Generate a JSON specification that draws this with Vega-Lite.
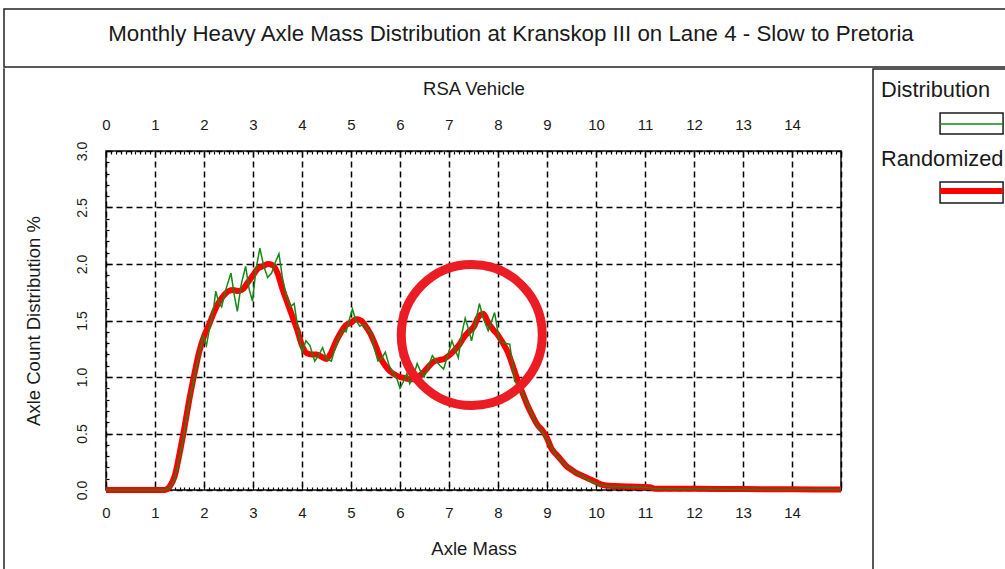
{
  "$schema": "https://vega.github.io/schema/vega-lite/v6.json",
  "padding": {"left": 3, "top": 8, "right": 0, "bottom": 0},
  "background": "white",
  "spacing": 0,
  "config": {
    "font": "Liberation Sans",
    "view": {"stroke": "#222222", "strokeWidth": 1.5},
    "axis": {"labelFont": "Liberation Sans", "titleFont": "Liberation Sans", "labelColor": "#1a1a1a", "titleColor": "#1a1a1a", "titleFontWeight": "normal"}
  },
  "datasets": {
    "red": [
      {"x": 0, "y": 0}, {"x": 0.5, "y": 0}, {"x": 1.0, "y": 0}, {"x": 1.2, "y": 0},
      {"x": 1.3, "y": 0.03}, {"x": 1.4, "y": 0.12}, {"x": 1.5, "y": 0.32}, {"x": 1.6, "y": 0.55},
      {"x": 1.7, "y": 0.80}, {"x": 1.8, "y": 1.02}, {"x": 1.9, "y": 1.22}, {"x": 2.0, "y": 1.36},
      {"x": 2.1, "y": 1.46}, {"x": 2.2, "y": 1.57}, {"x": 2.3, "y": 1.66}, {"x": 2.4, "y": 1.72},
      {"x": 2.5, "y": 1.76}, {"x": 2.6, "y": 1.77}, {"x": 2.7, "y": 1.76}, {"x": 2.8, "y": 1.78},
      {"x": 2.9, "y": 1.84}, {"x": 3.0, "y": 1.90}, {"x": 3.1, "y": 1.96}, {"x": 3.2, "y": 1.98},
      {"x": 3.3, "y": 2.00}, {"x": 3.4, "y": 1.99}, {"x": 3.5, "y": 1.92}, {"x": 3.6, "y": 1.78},
      {"x": 3.7, "y": 1.66}, {"x": 3.8, "y": 1.54}, {"x": 3.9, "y": 1.42}, {"x": 4.0, "y": 1.28},
      {"x": 4.1, "y": 1.21}, {"x": 4.2, "y": 1.20}, {"x": 4.3, "y": 1.20}, {"x": 4.4, "y": 1.18},
      {"x": 4.5, "y": 1.16}, {"x": 4.6, "y": 1.22}, {"x": 4.7, "y": 1.32}, {"x": 4.8, "y": 1.40},
      {"x": 4.9, "y": 1.46}, {"x": 5.0, "y": 1.48}, {"x": 5.1, "y": 1.51}, {"x": 5.2, "y": 1.50},
      {"x": 5.3, "y": 1.45}, {"x": 5.4, "y": 1.38}, {"x": 5.5, "y": 1.28}, {"x": 5.6, "y": 1.17},
      {"x": 5.7, "y": 1.10}, {"x": 5.8, "y": 1.05}, {"x": 5.9, "y": 1.02}, {"x": 6.0, "y": 1.00},
      {"x": 6.1, "y": 0.99}, {"x": 6.2, "y": 0.98}, {"x": 6.3, "y": 0.98}, {"x": 6.4, "y": 1.01},
      {"x": 6.5, "y": 1.05}, {"x": 6.6, "y": 1.10}, {"x": 6.7, "y": 1.14}, {"x": 6.8, "y": 1.15},
      {"x": 6.9, "y": 1.16}, {"x": 7.0, "y": 1.19}, {"x": 7.1, "y": 1.23}, {"x": 7.2, "y": 1.28},
      {"x": 7.3, "y": 1.35}, {"x": 7.4, "y": 1.40}, {"x": 7.5, "y": 1.44}, {"x": 7.6, "y": 1.53},
      {"x": 7.7, "y": 1.56}, {"x": 7.8, "y": 1.48}, {"x": 7.9, "y": 1.42}, {"x": 8.0, "y": 1.37},
      {"x": 8.1, "y": 1.30}, {"x": 8.2, "y": 1.22}, {"x": 8.3, "y": 1.10}, {"x": 8.4, "y": 0.97},
      {"x": 8.5, "y": 0.86}, {"x": 8.6, "y": 0.75}, {"x": 8.7, "y": 0.66}, {"x": 8.8, "y": 0.58},
      {"x": 8.9, "y": 0.53}, {"x": 9.0, "y": 0.46}, {"x": 9.1, "y": 0.36}, {"x": 9.2, "y": 0.31},
      {"x": 9.3, "y": 0.26}, {"x": 9.4, "y": 0.21}, {"x": 9.5, "y": 0.18}, {"x": 9.6, "y": 0.15},
      {"x": 9.7, "y": 0.13}, {"x": 9.8, "y": 0.11}, {"x": 9.9, "y": 0.09}, {"x": 10.0, "y": 0.07},
      {"x": 10.1, "y": 0.05}, {"x": 10.2, "y": 0.04}, {"x": 10.4, "y": 0.035}, {"x": 10.7, "y": 0.03},
      {"x": 11.1, "y": 0.025}, {"x": 11.2, "y": 0.012}, {"x": 12.0, "y": 0.01}, {"x": 13.0, "y": 0.008},
      {"x": 14.0, "y": 0.006}, {"x": 15.0, "y": 0.005}
    ],
    "green": [
      {"x": 0, "y": 0}, {"x": 1.2, "y": 0}, {"x": 1.3, "y": 0.02}, {"x": 1.4, "y": 0.1},
      {"x": 1.5, "y": 0.28}, {"x": 1.6, "y": 0.52}, {"x": 1.7, "y": 0.78}, {"x": 1.8, "y": 1.0},
      {"x": 1.9, "y": 1.2}, {"x": 1.98, "y": 1.36}, {"x": 2.05, "y": 1.28}, {"x": 2.12, "y": 1.45},
      {"x": 2.2, "y": 1.62}, {"x": 2.24, "y": 1.76}, {"x": 2.3, "y": 1.66}, {"x": 2.36, "y": 1.62},
      {"x": 2.45, "y": 1.78}, {"x": 2.55, "y": 1.92}, {"x": 2.62, "y": 1.72}, {"x": 2.68, "y": 1.58},
      {"x": 2.76, "y": 1.82}, {"x": 2.85, "y": 1.98}, {"x": 2.92, "y": 1.78}, {"x": 2.99, "y": 1.67},
      {"x": 3.06, "y": 1.95}, {"x": 3.14, "y": 2.14}, {"x": 3.22, "y": 1.98}, {"x": 3.3, "y": 1.88},
      {"x": 3.38, "y": 1.92}, {"x": 3.46, "y": 2.02}, {"x": 3.53, "y": 2.09}, {"x": 3.6, "y": 1.88},
      {"x": 3.68, "y": 1.72}, {"x": 3.76, "y": 1.62}, {"x": 3.84, "y": 1.65}, {"x": 3.92, "y": 1.42},
      {"x": 4.0, "y": 1.22}, {"x": 4.08, "y": 1.32}, {"x": 4.16, "y": 1.28}, {"x": 4.26, "y": 1.14},
      {"x": 4.35, "y": 1.2}, {"x": 4.42, "y": 1.26}, {"x": 4.5, "y": 1.16}, {"x": 4.6, "y": 1.14},
      {"x": 4.67, "y": 1.25}, {"x": 4.75, "y": 1.35}, {"x": 4.83, "y": 1.42}, {"x": 4.9, "y": 1.4},
      {"x": 4.96, "y": 1.5}, {"x": 5.03, "y": 1.6}, {"x": 5.1, "y": 1.5}, {"x": 5.18, "y": 1.45},
      {"x": 5.26, "y": 1.47}, {"x": 5.34, "y": 1.42}, {"x": 5.42, "y": 1.38}, {"x": 5.48, "y": 1.25},
      {"x": 5.55, "y": 1.14}, {"x": 5.62, "y": 1.16}, {"x": 5.7, "y": 1.22}, {"x": 5.78, "y": 1.1},
      {"x": 5.87, "y": 1.03}, {"x": 5.94, "y": 0.98}, {"x": 6.0, "y": 0.9}, {"x": 6.07, "y": 0.96},
      {"x": 6.14, "y": 1.03}, {"x": 6.2, "y": 0.94}, {"x": 6.27, "y": 1.0}, {"x": 6.35, "y": 1.12},
      {"x": 6.42, "y": 1.05}, {"x": 6.49, "y": 1.0}, {"x": 6.57, "y": 1.08}, {"x": 6.66, "y": 1.19},
      {"x": 6.74, "y": 1.14}, {"x": 6.82, "y": 1.1}, {"x": 6.89, "y": 1.07}, {"x": 6.98, "y": 1.2},
      {"x": 7.06, "y": 1.32}, {"x": 7.12, "y": 1.25}, {"x": 7.19, "y": 1.17}, {"x": 7.26, "y": 1.38},
      {"x": 7.33, "y": 1.52}, {"x": 7.4, "y": 1.42}, {"x": 7.46, "y": 1.32}, {"x": 7.54, "y": 1.48},
      {"x": 7.62, "y": 1.65}, {"x": 7.7, "y": 1.52}, {"x": 7.8, "y": 1.41}, {"x": 7.86, "y": 1.48},
      {"x": 7.93, "y": 1.57}, {"x": 8.03, "y": 1.32}, {"x": 8.12, "y": 1.3}, {"x": 8.24, "y": 1.29},
      {"x": 8.3, "y": 1.1}, {"x": 8.34, "y": 0.96}, {"x": 8.4, "y": 0.95}, {"x": 8.5, "y": 0.86},
      {"x": 8.6, "y": 0.76}, {"x": 8.7, "y": 0.66}, {"x": 8.8, "y": 0.57}, {"x": 8.9, "y": 0.52},
      {"x": 9.0, "y": 0.45}, {"x": 9.1, "y": 0.37}, {"x": 9.2, "y": 0.3}, {"x": 9.3, "y": 0.26},
      {"x": 9.4, "y": 0.21}, {"x": 9.5, "y": 0.18}, {"x": 9.6, "y": 0.15}, {"x": 9.7, "y": 0.13},
      {"x": 9.8, "y": 0.1}, {"x": 9.9, "y": 0.08}, {"x": 10.0, "y": 0.06}, {"x": 10.1, "y": 0.04},
      {"x": 10.2, "y": 0.04}, {"x": 10.3, "y": 0.03}, {"x": 10.5, "y": 0.03}, {"x": 11.1, "y": 0.02},
      {"x": 11.2, "y": 0.01}, {"x": 13.5, "y": 0.005}, {"x": 15.0, "y": 0.005}
    ]
  },
  "vconcat": [
    {
      "width": 1014,
      "height": 58,
      "data": {"values": [{"label": "Monthly Heavy Axle Mass Distribution at Kranskop III on Lane 4 - Slow to Pretoria"}]},
      "mark": {"type": "text", "fontSize": 22.3, "color": "#1a1a1a", "baseline": "middle", "dy": -4},
      "encoding": {
        "x": {"datum": 0.5, "type": "quantitative", "scale": {"domain": [0, 1]}, "axis": null},
        "y": {"datum": 0.5, "type": "quantitative", "scale": {"domain": [0, 1]}, "axis": null},
        "text": {"field": "label"}
      }
    },
    {
      "spacing": 18,
      "hconcat": [
        {
          "width": 0.01,
          "height": 510,
          "data": {"values": []},
          "mark": {"type": "point", "opacity": 0},
          "encoding": {
            "x": {"datum": 0, "type": "quantitative", "scale": {"domain": [0, 1]}, "axis": null},
            "y": {"datum": 0, "type": "quantitative", "scale": {"domain": [0, 1]}, "axis": null}
          }
        },
        {
          "spacing": 18,
          "hconcat": [
            {
              "spacing": 0,
              "vconcat": [
                {
                  "width": 735,
                  "height": 60,
                  "view": {"stroke": null},
                  "data": {"values": []},
                  "mark": {"type": "point", "opacity": 0},
                  "encoding": {
                    "x": {
                      "field": "x", "type": "quantitative",
                      "scale": {"domain": [0, 15], "nice": false, "zero": false},
                      "axis": {
                        "orient": "top", "offset": -71, "tickCount": 15, "domain": false, "ticks": false, "tickSize": 0, "grid": false,
                        "labelExpr": "datum.value < 14.5 ? format(datum.value, 'd') : ''",
                        "labelOverlap": false, "labelFlush": false, "labelPadding": 8, "labelFontSize": 15,
                        "title": "RSA Vehicle", "titleFontSize": 18.5, "titlePadding": 19
                      }
                    }
                  }
                },
                {
                  "width": 735,
                  "height": 339,
                  "view": {"stroke": "#111111", "strokeWidth": 1.5},
                  "resolve": {"axis": {"x": "independent"}},
                  "encoding": {
                    "y": {
                      "field": "y", "type": "quantitative",
                      "scale": {"domain": [0, 3], "nice": false},
                      "axis": {
                        "orient": "left", "tickCount": 30, "domain": false,
                        "grid": true, "gridColor": "#000000", "gridDash": [6, 4], "gridWidth": 1.5,
                        "gridOpacity": {"condition": {"test": "abs(datum.value * 2 - round(datum.value * 2)) > 0.001", "value": 0}, "value": 1},
                        "tickColor": "#000000", "tickWidth": 1.2,
                        "tickSize": {"condition": {"test": "abs(datum.value * 2 - round(datum.value * 2)) > 0.001", "value": -3}, "value": -6},
                        "labelExpr": "abs(datum.value * 2 - round(datum.value * 2)) < 0.001 ? format(datum.value, '.1f') : ''",
                        "labelOverlap": false, "labelFlush": false, "labelAngle": -90, "labelAlign": "center", "labelBaseline": "bottom",
                        "labelPadding": 23, "labelFontSize": 14,
                        "title": "Axle Count Distribution %", "titleFontSize": 18.5, "titlePadding": 29
                      }
                    }
                  },
                  "layer": [
                    {
                      "data": {"name": "red"},
                      "mark": {"type": "line", "color": "#ff0000", "strokeWidth": 6, "interpolate": "monotone", "clip": false},
                      "encoding": {
                        "x": {
                          "field": "x", "type": "quantitative",
                          "scale": {"domain": [0, 15], "nice": false, "zero": false},
                          "axis": {
                            "orient": "bottom", "tickCount": 150, "domain": false,
                            "grid": true, "gridColor": "#000000", "gridDash": [6, 4], "gridWidth": 1.5,
                            "gridOpacity": {"condition": {"test": "abs(datum.value - round(datum.value)) > 0.001", "value": 0}, "value": 1},
                            "tickColor": "#000000", "tickWidth": 1.2,
                            "tickSize": {"condition": {"test": "abs(datum.value - round(datum.value)) > 0.001", "value": -3}, "value": -6},
                            "labelExpr": "abs(datum.value - round(datum.value)) < 0.001 && datum.value < 14.5 ? format(datum.value, 'd') : ''",
                            "labelOverlap": false, "labelFlush": false, "labelPadding": 21, "labelFontSize": 15,
                            "title": "Axle Mass", "titleFontSize": 18.5, "titlePadding": 16
                          }
                        }
                      }
                    },
                    {
                      "data": {"name": "green"},
                      "mark": {"type": "line", "color": "#138a13", "strokeWidth": 1.5, "clip": false},
                      "encoding": {
                        "x": {
                          "field": "x", "type": "quantitative",
                          "axis": {
                            "orient": "top", "tickCount": 150, "domain": false, "grid": false, "labels": false, "title": null,
                            "tickColor": "#000000", "tickWidth": 1.2,
                            "tickSize": {"condition": {"test": "abs(datum.value - round(datum.value)) > 0.001", "value": -3}, "value": -6}
                          }
                        }
                      }
                    },
                    {
                      "data": {"values": [{"x": 7.465, "y": 1.372}]},
                      "mark": {"type": "point", "shape": "circle", "filled": false, "size": 19881, "stroke": "#ec1c24", "strokeWidth": 9, "opacity": 1},
                      "encoding": {
                        "x": {"field": "x", "type": "quantitative", "axis": null}
                      }
                    }
                  ]
                }
              ]
            },
            {
              "width": 140,
              "height": 510,
              "data": {"values": [{"series": "Distribution"}, {"series": "Randomized"}]},
              "encoding": {
                "y": {"field": "series", "type": "nominal", "scale": {"type": "point", "domain": ["Distribution", "Randomized"], "range": [21, 90], "padding": 0}, "axis": null}
              },
              "layer": [
                {
                  "mark": {"type": "text", "align": "left", "baseline": "middle", "dx": 8, "fontSize": 21.8, "color": "#1a1a1a"},
                  "encoding": {
                    "x": {"datum": 0, "type": "quantitative", "scale": {"domain": [0, 1]}, "axis": null},
                    "text": {"field": "series"}
                  }
                },
                {
                  "mark": {"type": "rect", "fill": "white", "stroke": "#1a1a1a", "strokeWidth": 1.5, "yOffset": 23, "y2Offset": 44},
                  "encoding": {
                    "x": {"datum": 0.479, "type": "quantitative"},
                    "x2": {"datum": 0.929},
                    "y2": {"field": "series"}
                  }
                },
                {
                  "transform": [{"filter": "datum.series === 'Distribution'"}],
                  "mark": {"type": "rule", "color": "#138a13", "strokeWidth": 1.5, "yOffset": 34},
                  "encoding": {
                    "x": {"datum": 0.479, "type": "quantitative"},
                    "x2": {"datum": 0.929}
                  }
                },
                {
                  "transform": [{"filter": "datum.series === 'Randomized'"}],
                  "mark": {"type": "rule", "color": "#ff0000", "strokeWidth": 6, "yOffset": 32},
                  "encoding": {
                    "x": {"datum": 0.479, "type": "quantitative"},
                    "x2": {"datum": 0.929}
                  }
                }
              ]
            }
          ]
        }
      ]
    }
  ]
}
